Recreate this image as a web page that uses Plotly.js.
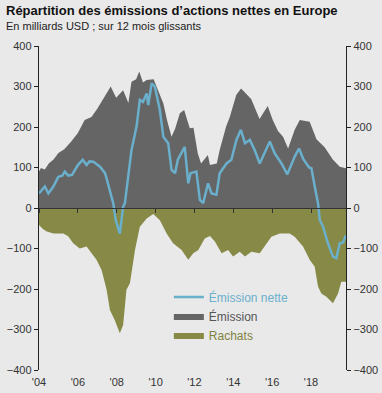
<!DOCTYPE html>
<html>
<head>
<meta charset="utf-8">
<script src="https://cdn.plot.ly/plotly-3.0.1.min.js"></script>
<style>html,body{margin:0;padding:0;background:#e9e9e9;}#chart{width:382px;height:393px;}</style>
</head>
<body>
<div id="chart"></div>
<script>
// Émission (gross issuance), bn USD, rolling 12 months
const emissionYears = [2004.0,2004.1,2004.3,2004.5,2004.75,2005.0,2005.3,2005.66,2006.0,2006.35,2006.7,2007.0,2007.38,2007.69,2007.97,2008.33,2008.6,2008.76,2009.0,2009.16,2009.35,2009.54,2009.9,2010.15,2010.4,2010.6,2010.82,2011.0,2011.25,2011.47,2011.76,2011.95,2012.17,2012.34,2012.69,2012.8,2013.15,2013.3,2013.63,2013.82,2014.15,2014.4,2014.92,2015.35,2015.77,2016.03,2016.3,2016.56,2016.82,2017.16,2017.42,2017.93,2018.28,2018.7,2019.13,2019.48,2019.8];
const emissionValues = [90,99,95,110,120,136,145,164,185,217,225,245,275,300,272,291,259,312,318,337,310,316,318,290,258,215,176,195,234,242,197,198,135,110,131,106,110,143,201,225,279,295,269,220,252,217,190,176,147,193,217,213,170,150,119,102,98];

// Rachats (buybacks), bn USD, rolling 12 months
const rachatsYears = [2004.0,2004.2,2004.4,2004.74,2005.25,2005.5,2005.76,2006.1,2006.45,2006.7,2006.96,2007.22,2007.48,2007.65,2007.9,2008.16,2008.33,2008.5,2008.68,2008.94,2009.19,2009.54,2009.88,2010.22,2010.57,2010.9,2011.34,2011.68,2011.94,2012.2,2012.53,2012.8,2013.05,2013.4,2013.73,2013.99,2014.33,2014.6,2014.93,2015.36,2015.62,2015.96,2016.39,2016.9,2017.16,2017.59,2017.93,2018.19,2018.36,2018.53,2018.79,2019.13,2019.39,2019.56,2019.8];
const rachatsValues = [-42,-52,-58,-63,-63,-70,-87,-100,-95,-110,-128,-153,-202,-252,-277,-309,-289,-202,-186,-104,-46,-26,-15,-30,-63,-87,-104,-128,-112,-104,-75,-69,-83,-112,-104,-120,-108,-120,-108,-112,-95,-71,-63,-63,-71,-95,-128,-145,-194,-211,-219,-235,-211,-182,-182];

// Émission nette (net issuance), bn USD, rolling 12 months
const netYears = [2004.0,2004.15,2004.3,2004.48,2004.74,2004.99,2005.2,2005.33,2005.5,2005.7,2006.0,2006.25,2006.45,2006.6,2006.8,2007.14,2007.4,2007.55,2007.65,2007.82,2007.95,2008.16,2008.27,2008.33,2008.42,2008.6,2008.76,2009.02,2009.19,2009.35,2009.54,2009.62,2009.8,2009.96,2010.22,2010.4,2010.65,2010.82,2011.0,2011.15,2011.42,2011.5,2011.68,2011.8,2012.1,2012.28,2012.45,2012.7,2012.88,2013.13,2013.3,2013.65,2013.9,2014.16,2014.39,2014.6,2014.85,2015.1,2015.36,2015.62,2015.88,2016.13,2016.3,2016.48,2016.78,2016.99,2017.16,2017.38,2017.59,2017.9,2018.02,2018.19,2018.36,2018.45,2018.62,2018.87,2019.13,2019.3,2019.48,2019.65,2019.8];
const netValues = [36,45,53,36,53,77,80,90,80,82,106,119,106,115,114,102,86,60,44,12,-30,-63,-20,3,12,77,143,201,267,262,283,254,308,300,242,176,160,94,86,120,143,151,61,86,90,20,12,61,36,33,86,110,119,168,193,160,168,143,110,135,164,135,122,110,83,110,127,147,122,100,98,53,12,-30,-46,-87,-120,-124,-87,-85,-67];

const tickYears = [2004,2006,2008,2010,2012,2014,2016,2018];
const tickLabels = ["'04","'06","'08","'10","'12","'14","'16","'18"];
const yTicks = [-400,-300,-200,-100,0,100,200,300,400];

const seriesNames = ['Émission nette','Émission','Rachats'];
const colors = {net:'#6aafcc', em:'#656565', ra:'#878a46'};

const FONT = 'Liberation Sans, Arial, sans-serif';
const xr = [2004, 2019.8];

const traces = [
  {x: emissionYears, y: emissionValues, type:'scatter', mode:'lines', fill:'tozeroy',
   fillcolor: colors.em, line:{width:0, color: colors.em},
   name:'<span style="color:#555555">'+seriesNames[1]+'</span>', legendrank:2, hoverinfo:'skip'},
  {x: rachatsYears, y: rachatsValues, type:'scatter', mode:'lines', fill:'tozeroy',
   fillcolor: colors.ra, line:{width:0, color: colors.ra},
   name:'<span style="color:#7f8240">'+seriesNames[2]+'</span>', legendrank:3, hoverinfo:'skip'},
  {x: netYears, y: netValues, type:'scatter', mode:'lines',
   line:{width:2.5, color: colors.net},
   name:'<span style="color:#6aafcc">'+seriesNames[0]+'</span>', legendrank:1, hoverinfo:'skip'},
  {x: [xr[0]], y:[0], yaxis:'y2', xaxis:'x', type:'scatter', mode:'markers', marker:{opacity:0}, showlegend:false, hoverinfo:'skip'},
  {x:[xr[0]], y:[0], xaxis:'x2', yaxis:'y', type:'scatter', mode:'markers', marker:{opacity:0}, showlegend:false, hoverinfo:'skip'}
];

const yCommon = {
  range:[-400,400], tickvals: yTicks, ticks:'outside', ticklen:4, tickcolor:'#222',
  showline:true, linecolor:'#222', linewidth:1.2, showgrid:false, zeroline:false,
  tickfont:{family:FONT, size:11, color:'#333'}, fixedrange:true
};

const layout = {
  width:382, height:393,
  margin:{l:39, r:36, t:46, b:23},
  paper_bgcolor:'#e9e9e9', plot_bgcolor:'#e9e9e9',
  showlegend:true,
  legend:{x:0.423, y:0.27, xanchor:'left', yanchor:'top', bgcolor:'rgba(0,0,0,0)',
          font:{family:FONT, size:12}, tracegroupgap:2, itemwidth:30},
  xaxis:{range:xr, tickvals:tickYears, ticktext:tickLabels, showline:false, ticks:'',
         ticklabelstandoff:4,
         showgrid:false, zeroline:false, tickfont:{family:FONT, size:11, color:'#333'}},
  xaxis2:{range:xr, overlaying:'x', anchor:'free', position:0.5, side:'bottom',
          tickvals:tickYears, showticklabels:false, ticks:'outside', ticklen:4, tickcolor:'#333',
          showline:true, linecolor:'#333', linewidth:1, showgrid:false, zeroline:false},
  yaxis: Object.assign({side:'left'}, yCommon),
  yaxis2: Object.assign({side:'right', overlaying:'y', anchor:'x'}, yCommon),
  annotations:[
    {text:'<b>Répartition des émissions d’actions nettes en Europe</b>', xref:'paper', yref:'paper',
     x:-0.114, y:1.080, xanchor:'left', yanchor:'bottom', showarrow:false,
     font:{family:FONT, size:13, color:'#111'}},
    {text:'En milliards USD ; sur 12 mois glissants', xref:'paper', yref:'paper',
     x:-0.114, y:1.037, xanchor:'left', yanchor:'bottom', showarrow:false,
     font:{family:FONT, size:11, color:'#222'}}
  ]
};

Plotly.newPlot('chart', traces, layout, {staticPlot:true, displayModeBar:false});
</script>
</body>
</html>
